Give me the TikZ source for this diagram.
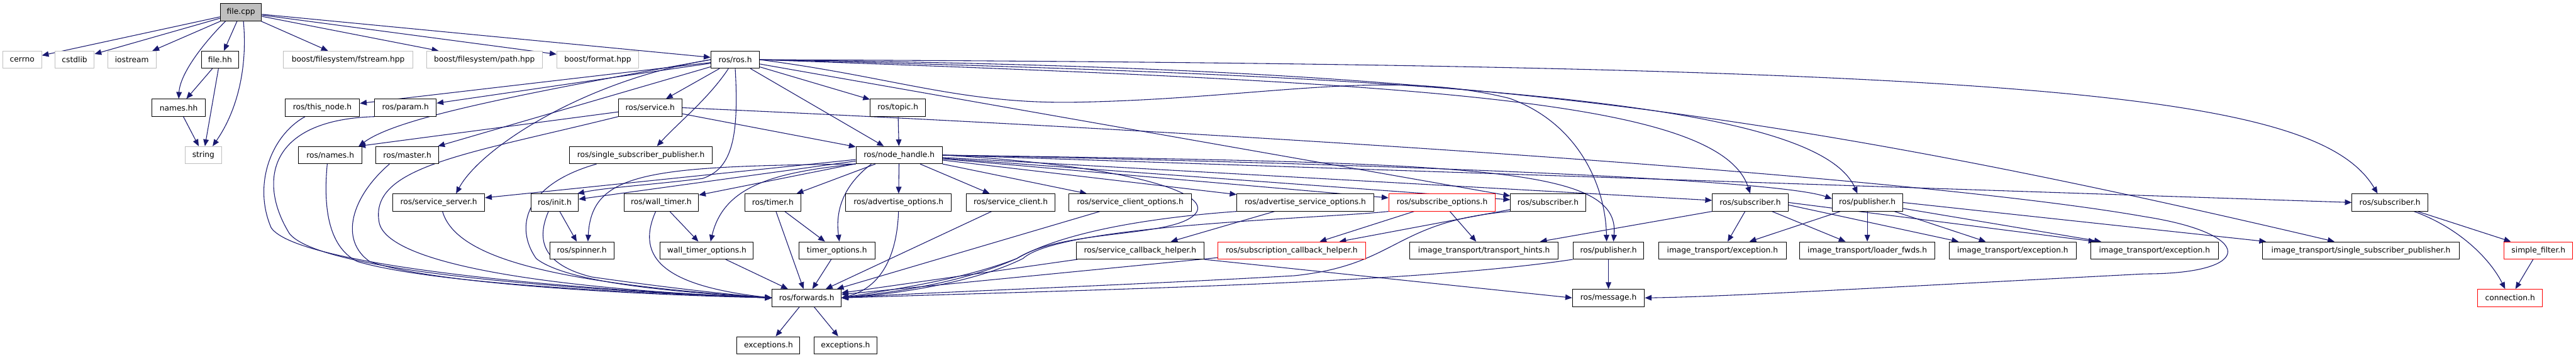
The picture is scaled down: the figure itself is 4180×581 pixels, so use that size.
\documentclass[tikz,border=0pt]{standalone}
\usepackage{fontspec}
\setmainfont{DejaVu Sans}
\usetikzlibrary{arrows.meta}

\definecolor{edgeblue}{HTML}{191970}
\definecolor{boxgray}{HTML}{BFBFBF}
\newcommand{\boxfont}{\fontsize{12.5}{14}\selectfont}

\pgfdeclarelayer{bg}
\pgfsetlayers{bg,main}

\tikzset{
  inc/.style={draw=black, line width=1pt, fill=white, minimum height=28pt, inner sep=2pt, font=\boxfont},
  ext/.style={inc, draw=boxgray},
  trunc/.style={inc, draw=red},
  dep/.style={draw=edgeblue, line width=1.1pt, -{Triangle[length=11pt,width=9pt]}},
}

\begin{document}
\begin{tikzpicture}[x=1pt,y=-1pt]

\useasboundingbox (0,0) rectangle (4180,581);

% Row 0
\node[inc, fill=boxgray, minimum width=67pt] (fcpp) at (391,20) {file.cpp};

% Row 1
\node[ext, minimum width=63pt] (cerrno) at (36,97) {cerrno};
\node[ext, minimum width=64pt] (cstdlib) at (121,97) {cstdlib};
\node[ext, minimum width=79pt] (iostream) at (214,97) {iostream};
\node[inc, minimum width=60pt] (filehh) at (357,97) {file.hh};
\node[ext, minimum width=210pt] (fstream) at (565,97) {boost/filesystem/fstream.hpp};
\node[ext, minimum width=188pt] (pathhpp) at (786,97) {boost/filesystem/path.hpp};
\node[ext, minimum width=133pt] (format) at (970,97) {boost/format.hpp};
\node[inc, minimum width=79pt] (ros) at (1193,97) {ros/ros.h};

% Row 2
\node[inc, minimum width=87pt] (nameshh) at (290,175) {names.hh};
\node[inc, minimum width=121pt] (thisnode) at (523,175) {ros/this\_node.h};
\node[inc, minimum width=100pt] (param) at (658,175) {ros/param.h};
\node[inc, minimum width=103pt] (service) at (1055,175) {ros/service.h};
\node[inc, minimum width=90pt] (topic) at (1457,175) {ros/topic.h};

% Row 3
\node[ext, minimum width=59pt] (string) at (330,252) {string};
\node[inc, minimum width=103pt] (rnames) at (536,252) {ros/names.h};
\node[inc, minimum width=102pt] (master) at (661,252) {ros/master.h};
\node[inc, minimum width=232pt] (ssp) at (1040,252) {ros/single\_subscriber\_publisher.h};
\node[inc, minimum width=140pt] (nh) at (1459,252) {ros/node\_handle.h};

% Row 4
\node[inc, minimum width=149pt] (sserver) at (712,329) {ros/service\_server.h};
\node[inc, minimum width=77pt] (init) at (900,329) {ros/init.h};
\node[inc, minimum width=121pt] (walltimer) at (1073,329) {ros/wall\_timer.h};
\node[inc, minimum width=91pt] (timer) at (1254,329) {ros/timer.h};
\node[inc, minimum width=171pt] (advopt) at (1458,329) {ros/advertise\_options.h};
\node[inc, minimum width=144pt] (sclient) at (1640,329) {ros/service\_client.h};
\node[inc, minimum width=199pt] (sclientopt) at (1834,329) {ros/service\_client\_options.h};
\node[inc, minimum width=222pt] (advsrvopt) at (2118,329) {ros/advertise\_service\_options.h};
\node[trunc, minimum width=173pt] (subopt) at (2340,329) {ros/subscribe\_options.h};
\node[inc, minimum width=122pt] (subA) at (2512,329) {ros/subscriber.h};
\node[inc, minimum width=123pt] (subB) at (2840,329) {ros/subscriber.h};
\node[inc, minimum width=114pt] (pubB) at (3030,329) {ros/publisher.h};
\node[inc, minimum width=123pt] (subC) at (3878,329) {ros/subscriber.h};

% Row 5
\node[inc, minimum width=104pt] (spinner) at (944,407) {ros/spinner.h};
\node[inc, minimum width=151pt] (wtopt) at (1147,407) {wall\_timer\_options.h};
\node[inc, minimum width=123pt] (topt) at (1358,407) {timer\_options.h};
\node[inc, minimum width=207pt] (scbh) at (1850,407) {ros/service\_callback\_helper.h};
\node[trunc, minimum width=239pt] (subcbh) at (2096,407) {ros/subscription\_callback\_helper.h};
\node[inc, minimum width=241pt] (hints) at (2408,407) {image\_transport/transport\_hints.h};
\node[inc, minimum width=115pt] (pubA) at (2610,407) {ros/publisher.h};
\node[inc, minimum width=207pt] (excA) at (2795,407) {image\_transport/exception.h};
\node[inc, minimum width=219pt] (loader) at (3030,407) {image\_transport/loader\_fwds.h};
\node[inc, minimum width=207pt] (excB) at (3266,407) {image\_transport/exception.h};
\node[inc, minimum width=207pt] (excC) at (3496,407) {image\_transport/exception.h};
\node[inc, minimum width=319pt] (itssp) at (3831,407) {image\_transport/single\_subscriber\_publisher.h};
\node[trunc, minimum width=111pt] (sfilter) at (4119,407) {simple\_filter.h};

% Row 6
\node[inc, minimum width=112pt] (fwd) at (1309,484) {ros/forwards.h};
\node[inc, minimum width=117pt] (message) at (2610,484) {ros/message.h};
\node[trunc, minimum width=105pt] (conn) at (4073,484) {connection.h};

% Row 7
\node[inc, minimum width=102pt] (excs1) at (1247,561) {exceptions.h};
\node[inc, minimum width=102pt] (excs2) at (1372,561) {exceptions.h};

\begin{pgfonlayer}{bg}
% file.cpp
\draw[dep] (fcpp) -- (cerrno);
\draw[dep] (fcpp) -- (cstdlib);
\draw[dep] (fcpp) -- (iostream);
\draw[dep] (fcpp) -- (filehh);
\draw[dep] ([xshift=9pt]fcpp.south west) .. controls (330,70) and (292,120) .. (nameshh.north);
\draw[dep] ([xshift=4pt]fcpp.south) .. controls (402,110) and (385,180) .. ([xshift=15pt]string.north);
\draw[dep] (fcpp) -- (fstream);
\draw[dep] (fcpp) -- (pathhpp);
\draw[dep] (fcpp) -- (format);
\draw[dep] (fcpp) -- (ros);
\draw[dep] (filehh) -- (nameshh);
\draw[dep] (filehh) -- (string);
\draw[dep] (nameshh) -- (string);

% ros/ros.h
\draw[dep] (ros) -- (thisnode);
\draw[dep] (ros) -- (param);
\draw[dep] (ros.west) .. controls (800,160) and (640,195) .. ([xshift=-6pt]rnames.north east);
\draw[dep] (ros) -- (master);
\draw[dep] (ros) -- (service);
\draw[dep] ([xshift=-11pt]ros.south) .. controls (1150,160) and (1100,200) .. ([xshift=26pt]ssp.north);
\draw[dep] (ros.west) .. controls (950,130) and (780,240) .. ([xshift=28pt]sserver.north);
\draw[dep] (ros.south) .. controls (1200,230) and (1185,275) .. (1140,290)
  .. controls (1060,300) and (980,305) .. ([xshift=-2pt]init.north east);
\draw[dep] (ros) -- (topic);
\draw[dep] (ros) -- (nh);
\draw[dep] (ros) -- (subA);
\draw[dep] (ros.east) .. controls (1450,125) and (1560,170) .. (1750,166)
  .. controls (2050,160) and (2250,110) .. (2450,160)
  .. controls (2560,200) and (2605,300) .. ([xshift=-3pt]pubA.north);
\draw[dep] (ros.east) .. controls (2300,135) and (2790,160) .. (subB.north);
\draw[dep] (ros.east) .. controls (2400,125) and (2950,170) .. ([xshift=-16pt]pubB.north);
\draw[dep] (ros.east) .. controls (3300,105) and (3760,150) .. ([xshift=-20pt]subC.north);
\draw[dep] (ros.east) .. controls (2300,110) and (2800,160) .. ([xshift=-43pt]itssp.north);

% ros/service.h
\draw[dep] (service) -- ([xshift=-6pt]rnames.north east);
\draw[dep] (service) -- (nh);
\draw[dep] (service.south west) .. controls (760,250) and (600,270) .. (615,360)
  .. controls (625,430) and (900,470) .. (fwd.west);
\draw[dep] (service.east) .. controls (2000,215) and (3100,285) .. (3480,352)
  .. controls (3660,380) and (3660,445) .. (3480,445)
  .. controls (3000,470) and (2800,482) .. (message.east);

% ros/topic.h
\draw[dep] (topic) -- (nh);

% ros/node_handle.h
\draw[dep] (nh) -- (sserver);
\draw[dep] (nh) -- (init);
\draw[dep] (nh.south west) .. controls (1050,270) and (960,280) .. ([xshift=10pt]spinner.north);
\draw[dep] (nh) -- (walltimer);
\draw[dep] (nh.south west) .. controls (1260,280) and (1175,300) .. ([xshift=6pt]wtopt.north);
\draw[dep] (nh) -- (timer);
\draw[dep] ([xshift=-45pt]nh.south) .. controls (1370,300) and (1355,340) .. ([xshift=4pt]topt.north);
\draw[dep] (nh) -- (advopt);
\draw[dep] (nh) -- (sclient);
\draw[dep] (nh) -- (sclientopt);
\draw[dep] (nh) -- (advsrvopt);
\draw[dep] (nh) -- (subopt);
\draw[dep] (nh) -- (subA);
\draw[dep] (nh.east) .. controls (2400,265) and (2630,270) .. ([xshift=8pt]pubA.north);
\draw[dep] (nh) -- (subB);
\draw[dep] (nh.east) .. controls (2200,265) and (2880,290) .. ([yshift=6pt]pubB.west);
\draw[dep] (nh.east) -- (subC.west);
\draw[dep] (nh.east) .. controls (1850,270) and (1990,320) .. (1930,355)
  .. controls (1880,385) and (1720,375) .. (1650,420)
  .. controls (1560,455) and (1450,470) .. (fwd.east);

% row 4 includes
\draw[dep] (init) -- (spinner);
\draw[dep] (walltimer) -- (wtopt);
\draw[dep] (timer) -- (topt);
\draw[dep] (advsrvopt) -- (scbh);
\draw[dep] (subopt) -- (subcbh);
\draw[dep] (subopt) -- (hints);
\draw[dep] (subA) -- (subcbh);
\draw[dep] (subB.south west) -- ([xshift=-30pt]hints.north east);
\draw[dep] (subB) -- (excA);
\draw[dep] (subB) -- (loader);
\draw[dep] ([yshift=-4pt]subB.east) -- ([xshift=16pt]excB.north west);
\draw[dep] (subB.east) -- ([xshift=8pt]excC.north west);
\draw[dep] (pubB) -- (excA);
\draw[dep] (pubB) -- (loader);
\draw[dep] (pubB) -- (excB);
\draw[dep] (pubB) -- (excC);
\draw[dep] (pubB.east) -- ([xshift=6pt]itssp.north west);
\draw[dep] (subC) -- (sfilter);
\draw[dep] ([xshift=39pt]subC.south) .. controls (3990,370) and (4040,420) .. ([xshift=-8pt]conn.north);
\draw[dep] (sfilter) -- (conn);

% ros/message.h
\draw[dep] (pubA) -- (message);
\draw[dep] (scbh.south east) -- (message.west);

% ros/forwards.h, from the left
\draw[dep] ([xshift=33pt]thisnode.south west) .. controls (440,220) and (410,300) .. (440,370)
  .. controls (480,430) and (900,470) .. (fwd.west);
\draw[dep] (param.south west) .. controls (430,195) and (420,300) .. (470,380)
  .. controls (520,440) and (900,470) .. (fwd.west);
\draw[dep] ([xshift=-5pt]rnames.south) .. controls (525,330) and (530,400) .. (580,425)
  .. controls (700,460) and (1000,475) .. (fwd.west);
\draw[dep] ([xshift=-29pt]master.south) .. controls (570,320) and (550,390) .. (600,425)
  .. controls (700,460) and (1000,478) .. (fwd.west);
\draw[dep] ([xshift=6pt]sserver.south) .. controls (740,420) and (900,460) .. (fwd.west);
\draw[dep] ([xshift=-72pt]ssp.south) .. controls (850,300) and (835,370) .. (870,420)
  .. controls (920,460) and (1100,475) .. (fwd.west);
\draw[dep] ([xshift=-10pt]init.south) .. controls (870,390) and (880,430) .. (960,450)
  .. controls (1100,470) and (1200,480) .. (fwd.west);
\draw[dep] ([xshift=-9pt]walltimer.south) .. controls (1030,420) and (1080,465) .. (fwd.west);
\draw[dep] (wtopt) -- (fwd);
\draw[dep] (timer) -- (fwd);
\draw[dep] (topt) -- (fwd);

% ros/forwards.h, from the right
\draw[dep] (advopt.south) .. controls (1455,430) and (1420,470) .. (fwd.east);
\draw[dep] (sclient) -- (fwd);
\draw[dep] (sclientopt) -- (fwd);
\draw[dep] (advsrvopt.south west) .. controls (1850,355) and (1720,380) .. (1650,420)
  .. controls (1560,460) and (1450,475) .. (fwd.east);
\draw[dep] (subopt.south west) .. controls (2150,355) and (1720,365) .. (1660,420)
  .. controls (1580,460) and (1450,478) .. (fwd.east);
\draw[dep] (subA.south west) .. controls (2260,360) and (2270,430) .. (2100,448)
  .. controls (1800,465) and (1500,475) .. (fwd.east);
\draw[dep] (pubA.south west) .. controls (2300,460) and (1800,470) .. (fwd.east);
\draw[dep] (scbh) -- (fwd);
\draw[dep] (subcbh) -- (fwd);

% exceptions
\draw[dep] (fwd) -- (excs1);
\draw[dep] (fwd) -- (excs2);
\end{pgfonlayer}

\end{tikzpicture}
\end{document}
